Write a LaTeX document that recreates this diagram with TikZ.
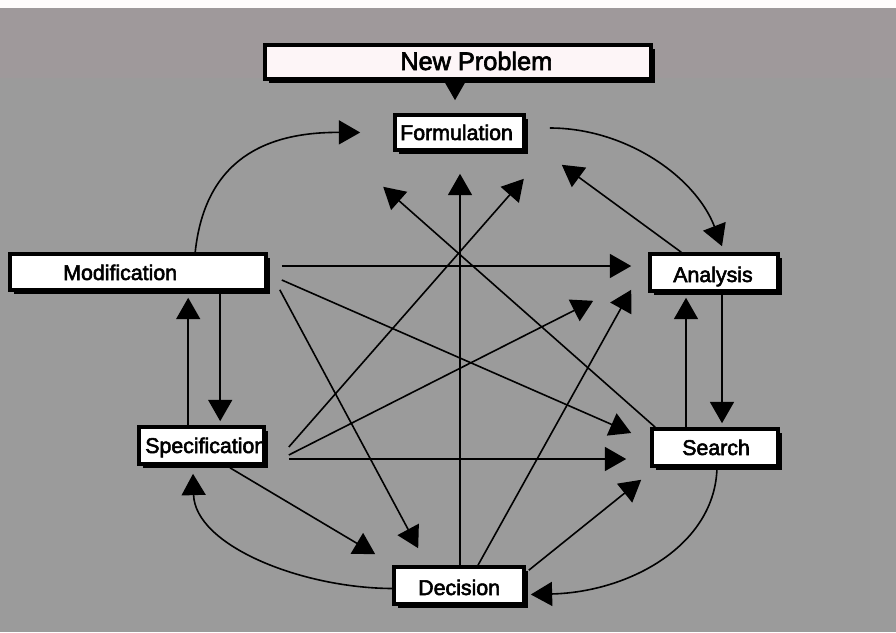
\documentclass[tikz,border=0pt]{standalone}
\usepackage{fontspec}
\setmainfont{Liberation Sans}
\newfontfamily\lblfont{Liberation Sans}[FakeBold=2.6]
\usetikzlibrary{arrows.meta,calc,shadows}

\definecolor{paper}{RGB}{155,155,155}
\definecolor{paperpink}{RGB}{159,153,155}
\definecolor{boxpink}{RGB}{253,245,247}

\tikzset{
  boxnode/.style={draw=black, line width=2.7pt, fill=white, inner sep=0pt,
    drop shadow={shadow xshift=2.8pt, shadow yshift=-2.8pt, fill=black, opacity=1}},
  lbl/.style={inner sep=0pt, anchor=base west, font=\lblfont\fontsize{16}{19}\selectfont},
  conn/.style={line width=1.2pt, -{Triangle[length=16pt,width=18pt]}},
}

\begin{document}
\begin{tikzpicture}[x=0.75pt, y=-0.75pt]
  % backdrop
  \useasboundingbox (0,0) rectangle (896,632);
  \fill[paper] (0,0) rectangle (896,632);
  \fill[paperpink] (0,8) rectangle (896,78);
  \fill[white!95!pink] (0,0) rectangle (896,8);

  % boxes
  \node[boxnode, fill=boxpink, minimum width=289.5pt, minimum height=25.5pt] (np) at (458,62) {};
  \node[boxnode, minimum width=96.75pt, minimum height=26.25pt] (form) at (459.5,132.5) {};
  \node[boxnode, minimum width=192pt, minimum height=27pt] (mod) at (138,272) {};
  \node[boxnode, minimum width=96pt, minimum height=27.75pt] (ana) at (714,272.5) {};
  \node[boxnode, minimum width=94.5pt, minimum height=27.75pt] (sea) at (715,447.5) {};
  \node[boxnode, minimum width=93.75pt, minimum height=27.75pt] (spec) at (201.5,445.5) {};
  \node[boxnode, minimum width=97.5pt, minimum height=27.75pt] (dec) at (459,585.5) {};

  % labels
  \node[lbl, font=\lblfont\fontsize{19}{22}\selectfont] (npt) at (400,70) {New Problem};
  \node[lbl] (formt) at (400,140) {Formulation};
  \node[lbl] (modt) at (63,280) {Modification};
  \node[lbl] (anat) at (673,282) {Analysis};
  \node[lbl] (seat) at (682,455) {Search};
  \node[lbl] (spect) at (145,453) {Specification};
  \node[lbl] (dect) at (418,595) {Decision};

  % into Formulation
  \draw[conn] ($(np.south)+(-3,0)$) -- ($(form.north)+(-4.5,-13)$);
  \draw[conn] ($(mod.north west)+(187,0)$) .. controls (205,160) and (265,132) .. ($(form.west)+(-33,0)$);
  \draw[conn] ($(ana.north west)+(33,0)$) -- ($(form.south east)+(36,13)$);
  \draw[conn] ($(sea.north west)+(5,0)$) -- ($(form.south west)+(-10,35)$);
  \draw[conn] ($(dec.north)+(1,0)$) -- ($(form.south)+(0.5,22)$);
  \draw[conn] ($(spec.east)+(23,1.5)$) -- ($(form.south east)+(-2,27)$);

  % into Analysis
  \draw[conn] ($(form.east)+(24,-4.5)$) .. controls (625,128) and (695,176) .. ($(ana.north)+(8,-6)$);
  \draw[conn] ($(mod.east)+(14,-6)$) -- ($(ana.west)+(-17,-6.5)$);
  \draw[conn] ($(spec.east)+(23,9.5)$) -- ($(ana.south west)+(-55,8)$);
  \draw[conn] ($(dec.north)+(19,0)$) -- ($(ana.south west)+(-17,-3)$);
  \draw[conn] ($(sea.north)+(-29,0)$) -- ($(ana.south)+(-28,5)$);

  % into Search
  \draw[conn] ($(mod.east)+(14,8)$) -- ($(sea.west)+(-19,-14.5)$);
  \draw[conn] ($(spec.east)+(23,13.5)$) -- ($(sea.west)+(-24,11.5)$);
  \draw[conn] ($(dec.north east)+(3,5)$) -- ($(sea.south west)+(-9,12)$);
  \draw[conn] ($(ana.south)+(8,0)$) -- ($(sea.north)+(7,-4)$);

  % into Decision
  \draw[conn] ($(mod.south east)+(12,-2)$) -- ($(dec.north west)+(26,-17)$);
  \draw[conn] ($(spec.south)+(28.5,2)$) -- ($(dec.north west)+(-17,-11)$);
  \draw[conn] ($(sea.south)+(2,0)$) .. controls (715,545) and (630,592) .. ($(dec.east)+(5,9)$);

  % into Specification and Modification
  \draw[conn] ($(dec.west)+(0,3)$) .. controls (300,588) and (195,545) .. ($(spec.south)+(-8.5,8)$);
  \draw[conn] ($(mod.south west)+(212,0)$) -- ($(spec.north west)+(83,-4)$);
  \draw[conn] ($(spec.north west)+(51,0)$) -- ($(mod.south west)+(180,6)$);
\end{tikzpicture}
\end{document}
